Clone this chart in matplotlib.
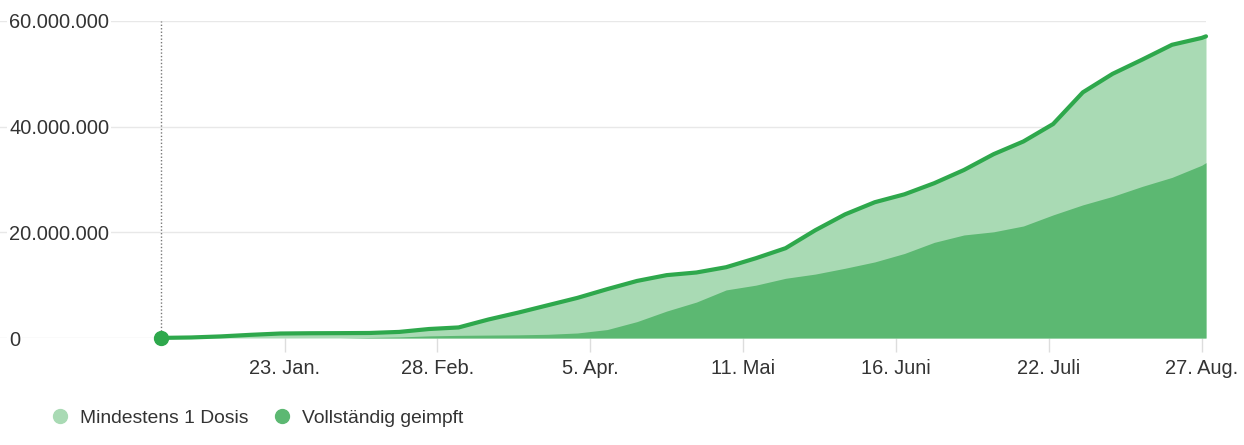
import matplotlib
matplotlib.use('Agg')
import matplotlib.pyplot as plt
import matplotlib.dates as mdates
from matplotlib.lines import Line2D
import pandas as pd

plt.rcParams['font.family'] = ['Liberation Sans', 'DejaVu Sans']

# weekly readings, last point is the final day (28 Aug)
dates = list(pd.date_range('2020-12-25', '2021-08-27', freq='7D')) + [pd.Timestamp('2021-08-28')]

# millions
mindestens_1 = [0.02, 0.1, 0.3, 0.6, 0.85, 0.9, 0.92, 0.95, 1.15, 1.7,
                2.0, 3.5, 4.8, 6.2, 7.6, 9.25, 10.8, 11.9, 12.4, 13.4,
                15.1, 17.0, 20.4, 23.4, 25.7, 27.2, 29.3, 31.8, 34.8, 37.2,
                40.5, 46.5, 50.0, 52.7, 55.5, 56.8, 57.1]
vollstaendig = [0, 0, 0, 0, 0, 0, 0, 0.1, 0.2, 0.4,
                0.5, 0.55, 0.6, 0.7, 0.95, 1.6, 3.1, 5.1, 6.8, 9.1,
                10.0, 11.3, 12.1, 13.2, 14.4, 16.0, 18.1, 19.5, 20.1, 21.2,
                23.3, 25.2, 26.8, 28.7, 30.4, 32.7, 33.2]

tick_dates = ['2021-01-23', '2021-02-28', '2021-04-05', '2021-05-11',
              '2021-06-16', '2021-07-22', '2021-08-27']
tick_labels = ['23. Jan.', '28. Feb.', '5. Apr.', '11. Mai', '16. Juni', '22. Juli', '27. Aug.']
y_ticks = [0, 20e6, 40e6, 60e6]

light = '#a9dab4'
dark = '#5cb872'
line_col = '#2ea84c'
txt = '#333333'

first = [v * 1e6 for v in mindestens_1]
full = [v * 1e6 for v in vollstaendig]

fig = plt.figure(figsize=(12.44, 4.45), dpi=100)
ax = fig.add_axes([0, 107 / 445, 1206 / 1244, 317 / 445])

ax.fill_between(dates, 0, first, color=light, lw=0, zorder=2)
ax.fill_between(dates, 0, full, color=dark, lw=0, zorder=3)
ax.plot(dates, first, color=line_col, lw=3, zorder=4, clip_on=False,
        solid_joinstyle='round', solid_capstyle='round')
ax.plot(dates[0], first[0], 'o', color=line_col, ms=10, zorder=5, clip_on=False)
ax.axvline(dates[0], color='#777777', ls=(0, (1, 1.5)), lw=1, zorder=1)

ax.set_ylim(0, 60e6)
left = dates[0] - pd.Timedelta(days=38)
ax.set_xlim(mdates.date2num(left), mdates.date2num(dates[-1]))

ax.set_yticks(y_ticks)
ax.set_yticklabels([f'{v:,.0f}'.replace(',', '.') for v in y_ticks])
ax.set_xticks([mdates.date2num(pd.Timestamp(d)) for d in tick_dates])
ax.set_xticklabels(tick_labels)

ax.grid(axis='y', color='#e8e8e8', lw=1)
ax.set_axisbelow(True)
for s in ax.spines.values():
    s.set_visible(False)

ax.tick_params(axis='x', length=10, width=1, color='#dddddd', pad=5,
               labelsize=14.4, labelcolor=txt)
ax.tick_params(axis='y', length=0, pad=-6.5, labelsize=14.4, labelcolor=txt)
for lab in ax.get_yticklabels():
    lab.set_horizontalalignment('left')
    lab.set_bbox(dict(facecolor='white', edgecolor='none', pad=1.5))

handles = [Line2D([], [], ls='none', marker='o', ms=10, color=light),
           Line2D([], [], ls='none', marker='o', ms=10, color=dark)]
fig.legend(handles, ['Mindestens 1 Dosis', 'Vollständig geimpft'],
           loc='center left', bbox_to_anchor=(53 / 1244, 27 / 445), ncol=2,
           frameon=False, fontsize=13.9, labelcolor=txt, handlelength=0.72,
           handletextpad=0.67, columnspacing=1.4, borderpad=0, borderaxespad=0)

fig.savefig('out.png', dpi=100)
